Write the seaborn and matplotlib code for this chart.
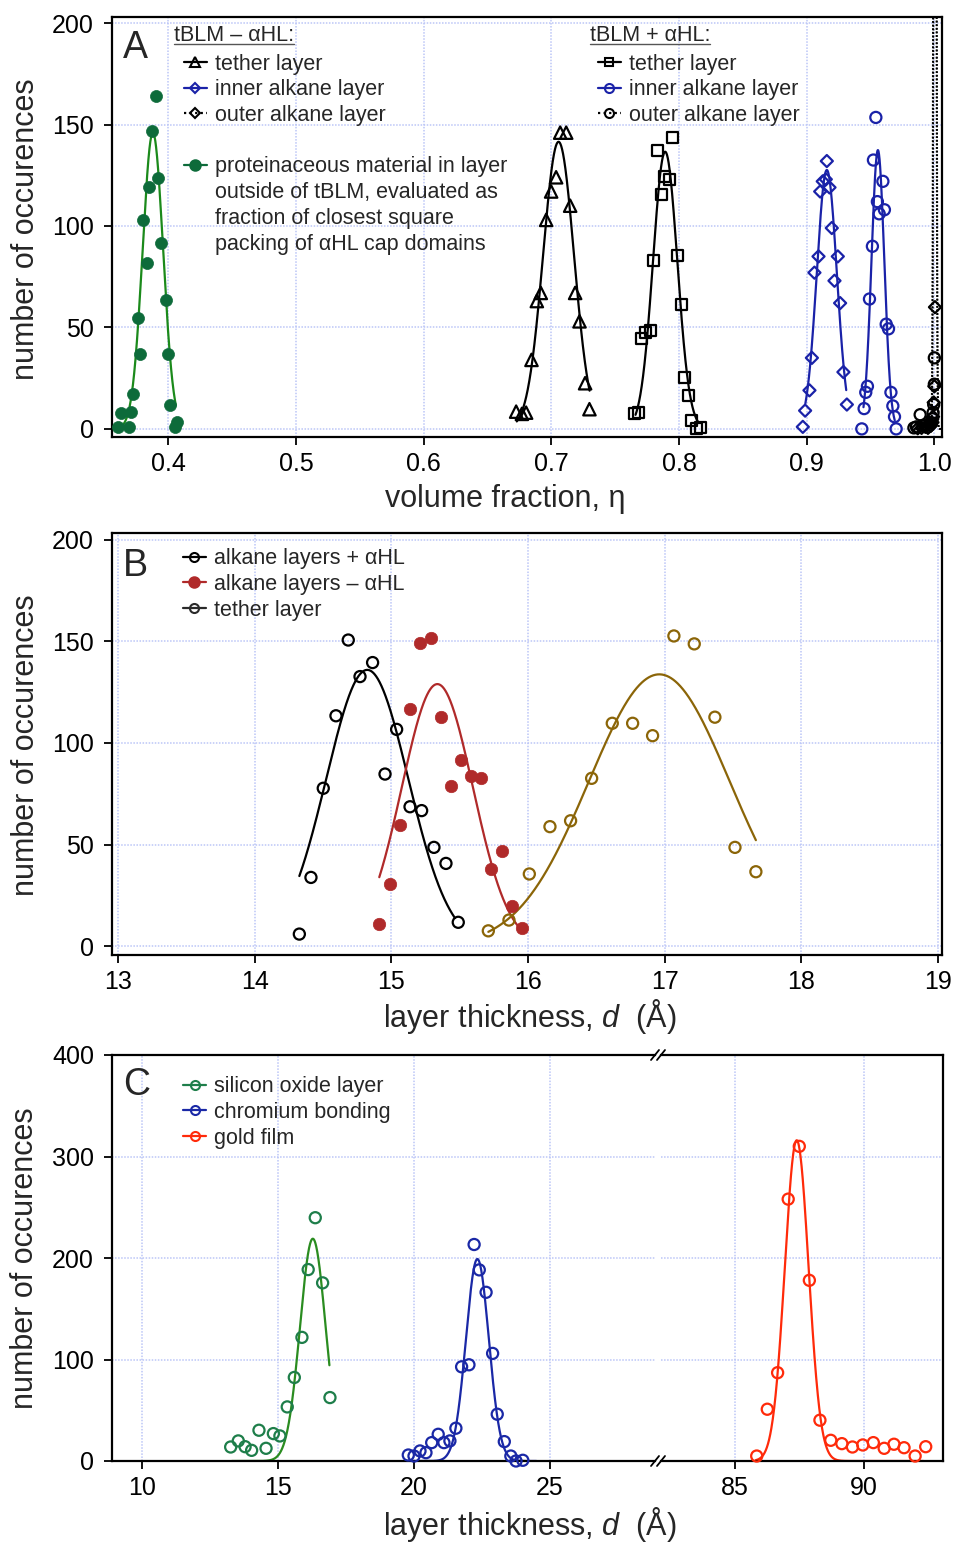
import numpy as np
import matplotlib
matplotlib.use("Agg")
import matplotlib.pyplot as plt
import seaborn as sns
from matplotlib.lines import Line2D

sns.set_theme(style="ticks")
plt.rcParams["font.family"] = ["Liberation Sans", "DejaVu Sans"]
plt.rcParams["mathtext.fontset"] = "custom"
plt.rcParams["mathtext.rm"] = "Liberation Sans"
plt.rcParams["mathtext.it"] = "Liberation Sans:italic"

# ---------------- Panel A: volume fractions ----------------
eta_protein = [0.3610, 0.3690, 0.3634, 0.3710, 0.3728, 0.3760, 0.3780, 0.3800, 0.3833, 0.3851,
               0.3877, 0.3904, 0.3924, 0.3943, 0.3979, 0.3998, 0.4018, 0.4050, 0.4070]
n_protein = [1, 1, 8, 8.5, 17, 54.5, 37, 103, 82, 119, 147, 164, 123.5, 91.5, 63.5, 37, 12, 1, 3.6]

eta_tether_minus = [0.6725, 0.6770, 0.6803, 0.6845, 0.6887, 0.6918, 0.6960, 0.6999, 0.7038, 0.7070,
                    0.7117, 0.7148, 0.7187, 0.7221, 0.7265, 0.7299]
n_tether_minus = [8.5, 7.4, 8, 34, 63, 67, 103, 117, 124, 146, 146, 110, 67, 53, 22.5, 9.7]

eta_tether_plus = [0.7649, 0.7683, 0.7709, 0.7735, 0.7780, 0.7800, 0.7835, 0.7866, 0.7884, 0.7923,
                   0.7952, 0.7988, 0.8017, 0.8043, 0.8075, 0.8101, 0.8135, 0.8171]
n_tether_plus = [7.4, 8, 44.7, 47.4, 48.4, 83.2, 137.4, 115.6, 124.6, 122.7, 143.7, 85.4, 61.4,
                 25.3, 16.4, 4, 0, 0.5]

eta_inner_minus = [0.8970, 0.8988, 0.9022, 0.9041, 0.9061, 0.9093, 0.9106, 0.9126, 0.9150, 0.9158,
                   0.9179, 0.9197, 0.9218, 0.9244, 0.9262, 0.9288, 0.9315]
n_inner_minus = [1, 9, 19, 35, 77, 85, 117, 122, 123, 132, 119, 99, 73, 85, 62, 28, 12]

eta_inner_plus = [0.9432, 0.9450, 0.9463, 0.9476, 0.9492, 0.9515, 0.9523, 0.9542, 0.9554, 0.9568,
                  0.9597, 0.9609, 0.9623, 0.9641, 0.9660, 0.9675, 0.9688, 0.9701]
n_inner_plus = [0, 10, 18, 21, 64, 90, 132.5, 153.5, 112, 106, 122, 108, 51.6, 49.3, 18, 11.3, 6, 0]

eta_outer_minus = [0.9870, 0.9900, 0.9930, 0.9950, 0.9970, 0.9980, 0.9990, 0.9995, 1.0000, 1.0005]
n_outer_minus = [0.3, 0.5, 1, 0.5, 1.5, 3, 6, 13, 21, 60]

eta_outer_plus = [0.9840, 0.9860, 0.9889, 0.9910, 0.9930, 0.9950, 0.9965, 0.9980, 0.9985, 0.9990,
                  0.9995, 1.0000, 1.0000]
n_outer_plus = [0.5, 1, 7, 1.5, 2, 1, 2, 3, 5, 8, 12, 22, 35]

# Gaussian fits: (centre, width, height, first x, last x)
fit_protein = (0.388, 0.0080, 146, 0.361, 0.406)
fit_tether_minus = (0.7057, 0.0121, 141.5, 0.673, 0.730)
fit_tether_plus = (0.7892, 0.0095, 136.6, 0.766, 0.815)
fit_inner_minus = (0.9158, 0.0078, 127.6, 0.899, 0.931)
fit_inner_plus = (0.9558, 0.0050, 137.4, 0.9445, 0.969)
fit_outer_minus = (1.0003, 0.0008, 900, 0.984, 1.006)
fit_outer_plus = (1.0006, 0.0008, 900, 0.984, 1.006)

# ---------------- Panel B: layer thickness ----------------
d_alk_plus = [14.327, 14.412, 14.502, 14.595, 14.685, 14.771, 14.863, 14.954, 15.039, 15.137,
              15.222, 15.312, 15.400, 15.490]
n_alk_plus = [5.9, 33.8, 77.7, 113.4, 150.7, 132.7, 139.6, 84.7, 106.7, 68.6, 66.7, 48.6, 40.7, 11.7]

d_alk_minus = [14.912, 14.990, 15.063, 15.137, 15.210, 15.288, 15.361, 15.434, 15.508, 15.581,
               15.656, 15.729, 15.807, 15.881, 15.959]
n_alk_minus = [10.8, 30.5, 59.6, 116.6, 149.4, 151.6, 112.7, 78.8, 91.6, 83.7, 82.6, 37.8, 46.8,
               19.7, 8.7]

d_tether = [15.710, 15.861, 16.010, 16.161, 16.312, 16.466, 16.617, 16.766, 16.912, 17.068,
            17.217, 17.368, 17.515, 17.668]
n_tether = [7.5, 12.8, 35.5, 58.8, 61.7, 82.6, 109.7, 109.7, 103.6, 152.7, 148.8, 112.7, 48.6, 36.6]

fit_alk_plus = (14.824, 0.30, 136, 14.327, 15.466)
fit_alk_minus = (15.337, 0.26, 129, 14.912, 15.96)
fit_tether = (16.961, 0.515, 133.8, 15.71, 17.668)

# ---------------- Panel C: substrate layers ----------------
d_sio = [13.26, 13.54, 13.79, 14.03, 14.30, 14.56, 14.83, 15.07, 15.34, 15.60, 15.88, 16.11,
         16.37, 16.64, 16.91]
n_sio = [13.8, 19.8, 14.1, 10.5, 30.3, 12.5, 27, 24.7, 53.3, 82.3, 121.8, 188.6, 239.7, 175.5, 62.5]

d_cr = [19.79, 20.00, 20.22, 20.44, 20.65, 20.89, 21.10, 21.32, 21.54, 21.75, 22.02, 22.21,
        22.40, 22.65, 22.89, 23.06, 23.32, 23.56, 23.75, 24.00]
n_cr = [5.9, 4.9, 9.9, 8.2, 18.1, 26.3, 18.1, 19.8, 32.3, 92.8, 94.8, 213.3, 188.3, 166.2, 106,
        46.1, 19.1, 4.9, 0, 0.7]

d_au = [85.84, 86.25, 86.65, 87.06, 87.49, 87.88, 88.29, 88.71, 89.14, 89.55, 89.95, 90.36,
        90.78, 91.16, 91.55, 91.98, 92.39]
n_au = [4.9, 51, 87, 258, 310, 178, 40.2, 20.4, 17.1, 13.8, 15.8, 18.1, 12.5, 16.5, 13.1, 4.9, 14.1]

fit_sio = (16.28, 0.47, 219, 13.3, 16.89)
fit_cr = (22.33, 0.42, 199, 19.8, 24.5)
fit_au = (87.39, 0.46, 316, 85.8, 92.3)

# tick values
ticks_eta = [0.4, 0.5, 0.6, 0.7, 0.8, 0.9, 1.0]
ticks_nA = [0, 50, 100, 150, 200]
ticks_dB = [13, 14, 15, 16, 17, 18, 19]
ticks_dC_left = [10, 15, 20, 25]
ticks_dC_right = [85, 90]
ticks_nC = [0, 100, 200, 300, 400]

# ---------------- colours ----------------
BLACK = "#000000"
GREEN_PT, GREEN_LN = "#0d6b3a", "#1b8a1b"
BLUE = "#1a22a8"
RED_B = "#b02a2a"
OLIVE = "#8b6508"
GREEN_C_PT, GREEN_C_LN = "#1e7e4a", "#2a8c20"
BLUE_C = "#1a28a6"
RED_C = "#ff2a0a"
GRID = "#bcc6f7"

FS_TICK, FS_LABEL, FS_LEG, FS_PANEL = 18, 22, 15.5, 27
LW_FIT = 1.6

W, H = 955, 1542
fig = plt.figure(figsize=(W / 100, H / 100), dpi=100)


def add_ax(l, t, r, b):
    return fig.add_axes([l / W, 1 - b / H, (r - l) / W, (b - t) / H])


axA = add_ax(112, 17, 942, 437)
axB = add_ax(112, 533, 942, 955)
axC1 = add_ax(112, 1055, 655, 1461)
axC2 = add_ax(661, 1055, 943, 1461)


def style(ax, xticks, yticks):
    ax.set_xticks(xticks)
    ax.set_yticks(yticks)
    ax.grid(True, color=GRID, lw=1.1, ls=(0, (1, 1)))
    ax.set_axisbelow(True)
    ax.set_facecolor("white")
    for s in ax.spines.values():
        s.set_linewidth(1.6)
        s.set_color("black")
        s.set_visible(True)
    ax.tick_params(direction="out", length=5.5, width=1.3, labelsize=FS_TICK, colors="black")
    ax.tick_params(axis="y", pad=7.5)
    ax.tick_params(axis="x", pad=5)


def fit_curve(ax, fit, color, ls="-", lw=LW_FIT):
    mu, sig, amp, lo, hi = fit
    xs = np.linspace(lo, hi, 600)
    ys = amp * np.exp(-(xs - mu) ** 2 / (2 * sig ** 2))
    sns.lineplot(x=xs, y=ys, ax=ax, color=color, lw=lw, ls=ls, sort=False, estimator=None)


def points(ax, x, y, color, marker, s, filled=False, lw=1.6):
    face = color if filled else "none"
    sns.scatterplot(x=x, y=y, ax=ax, color=color, facecolor=face, edgecolor=color,
                    marker=marker, s=s, linewidth=0.5 if filled else lw, zorder=3)


def handle(color, marker, ls="-", filled=False, ms=6.5):
    return Line2D([], [], color=color, ls=ls, lw=1.6, marker=marker, ms=ms, mew=1.5,
                  mfc=color if filled else "none", mec=color)


blank = Line2D([], [], color="none")
leg_kw = dict(fontsize=FS_LEG, frameon=False, borderpad=0, borderaxespad=0, handlelength=1.07,
              handletextpad=0.37, labelspacing=0.22, loc="upper left")

# ---------------- Panel A ----------------
style(axA, ticks_eta, ticks_nA)
axA.set_xlim(0.356, 1.006)
axA.set_ylim(-4, 203)

fit_curve(axA, fit_protein, GREEN_LN)
fit_curve(axA, fit_tether_minus, BLACK)
fit_curve(axA, fit_tether_plus, BLACK)
fit_curve(axA, fit_inner_minus, BLUE)
fit_curve(axA, fit_inner_plus, BLUE)
fit_curve(axA, fit_outer_minus, BLACK, ls=(0, (1, 1)), lw=1.3)
fit_curve(axA, fit_outer_plus, BLACK, ls=(0, (1, 1)), lw=1.3)

points(axA, eta_protein, n_protein, GREEN_PT, "o", 75, filled=True)
points(axA, eta_tether_minus, n_tether_minus, BLACK, "^", 80)
points(axA, eta_tether_plus, n_tether_plus, BLACK, "s", 62)
points(axA, eta_inner_minus, n_inner_minus, BLUE, "D", 38)
points(axA, eta_inner_plus, n_inner_plus, BLUE, "o", 64)
points(axA, eta_outer_minus, n_outer_minus, BLACK, "D", 38)
points(axA, eta_outer_plus, n_outer_plus, BLACK, "o", 64)

axA.set_xlabel("volume fraction, η", fontsize=FS_LABEL)
axA.xaxis.set_label_coords(0.4735, -0.112)
axA.xaxis.label.set_va("top")
axA.set_ylabel("number of occurences", fontsize=FS_LABEL)
axA.yaxis.set_label_coords(-0.086, 0.495)
axA.text(0.013, 0.925, "A", transform=axA.transAxes, fontsize=FS_PANEL, va="center", ha="left")

hdr_left = axA.text(0.0747, 0.9548, "tBLM – αHL:", transform=axA.transAxes, fontsize=FS_LEG,
                    va="center", ha="left")
hdr_right = axA.text(0.5759, 0.9548, "tBLM + αHL:", transform=axA.transAxes, fontsize=FS_LEG,
                     va="center", ha="left")

legA1 = axA.legend(
    handles=[handle(BLACK, "^"), handle(BLUE, "D", ms=5), handle(BLACK, "D", ls=(0, (1, 1.5)), ms=5),
             blank, handle(GREEN_PT, "o", filled=True, ms=7.5), blank, blank, blank],
    labels=["tether layer", "inner alkane layer", "outer alkane layer", " ",
            "proteinaceous material in layer", "outside of tBLM, evaluated as",
            "fraction of closest square", "packing of αHL cap domains"],
    bbox_to_anchor=(0.0867, 0.913), **leg_kw)
axA.add_artist(legA1)
axA.legend(
    handles=[handle(BLACK, "s", ms=5.5), handle(BLUE, "o"), handle(BLACK, "o", ls=(0, (1, 1.5)))],
    labels=["tether layer", "inner alkane layer", "outer alkane layer"],
    bbox_to_anchor=(0.5855, 0.913), **leg_kw)

# ---------------- Panel B ----------------
style(axB, ticks_dB, ticks_nA)
axB.set_xlim(12.956, 19.03)
axB.set_ylim(-4.4, 203.4)

fit_curve(axB, fit_alk_plus, BLACK)
fit_curve(axB, fit_alk_minus, RED_B)
fit_curve(axB, fit_tether, OLIVE)
points(axB, d_alk_plus, n_alk_plus, BLACK, "o", 64)
points(axB, d_alk_minus, n_alk_minus, RED_B, "o", 80, filled=True)
points(axB, d_tether, n_tether, OLIVE, "o", 64)

axB.set_xlabel("layer thickness, $d$  (Å)", fontsize=FS_LABEL)
axB.xaxis.set_label_coords(0.503, -0.0995)
axB.xaxis.label.set_va("top")
axB.set_ylabel("number of occurences", fontsize=FS_LABEL)
axB.yaxis.set_label_coords(-0.086, 0.497)
axB.text(0.013, 0.922, "B", transform=axB.transAxes, fontsize=FS_PANEL, va="center", ha="left")
axB.legend(handles=[handle(BLACK, "o"), handle(RED_B, "o", filled=True, ms=7.5), handle("#2a2a2a", "o")],
           labels=["alkane layers + αHL", "alkane layers – αHL", "tether layer"],
           bbox_to_anchor=(0.0855, 0.964), **leg_kw)

# ---------------- Panel C (broken axis) ----------------
style(axC1, ticks_dC_left, ticks_nC)
style(axC2, ticks_dC_right, ticks_nC)
axC1.set_xlim(8.897, 28.86)
axC2.set_xlim(82.13, 93.06)
for ax in (axC1, axC2):
    ax.set_ylim(0, 400)
axC1.spines["right"].set_visible(False)
axC2.spines["left"].set_visible(False)
axC2.tick_params(left=False, labelleft=False)

fit_curve(axC1, fit_sio, GREEN_C_LN)
fit_curve(axC1, fit_cr, BLUE_C)
fit_curve(axC2, fit_au, RED_C)
points(axC1, d_sio, n_sio, GREEN_C_PT, "o", 64)
points(axC1, d_cr, n_cr, BLUE_C, "o", 64)
points(axC2, d_au, n_au, RED_C, "o", 64)
for ax in (axC1, axC2):
    for c in ax.collections:
        c.set_clip_on(False)

axC1.set_xlabel("")
axC2.set_xlabel("")
axC2.set_ylabel("")
axC1.set_ylabel("number of occurences", fontsize=FS_LABEL)
axC1.yaxis.set_label_coords(-0.1326, 0.5)
fig.text(529.5 / W, 1 - 1505 / H, "layer thickness, $d$  (Å)", fontsize=FS_LABEL,
         ha="center", va="top")
axC1.text(0.0203, 0.925, "C", transform=axC1.transAxes, fontsize=FS_PANEL, va="center", ha="left")
axC1.legend(handles=[handle(GREEN_C_PT, "o"), handle(BLUE_C, "o"), handle(RED_C, "o")],
            labels=["silicon oxide layer", "chromium bonding", "gold film"],
            bbox_to_anchor=(0.1308, 0.948), **leg_kw)

# break marks on the x axis
dy = 5 / 406
for ax, x0, dx in ((axC1, 1.0, 4 / 543), (axC2, 0.0, 4 / 282)):
    for yb in (0.0, 1.0):
        ax.plot([x0 - dx, x0 + dx], [yb - dy, yb + dy], transform=ax.transAxes, color="black",
                lw=1.3, clip_on=False)

# underline the group headers in panel A
fig.canvas.draw()
inv = fig.transFigure.inverted()
for t in (hdr_left, hdr_right):
    bb = t.get_window_extent()
    (x0, y0), (x1, _) = inv.transform([(bb.x0, bb.y0 + 2.5), (bb.x1, bb.y0 + 2.5)])
    fig.add_artist(Line2D([x0, x1], [y0, y0], transform=fig.transFigure, color="#555555", lw=1.0))

fig.savefig("out.png", dpi=100, facecolor="white")
